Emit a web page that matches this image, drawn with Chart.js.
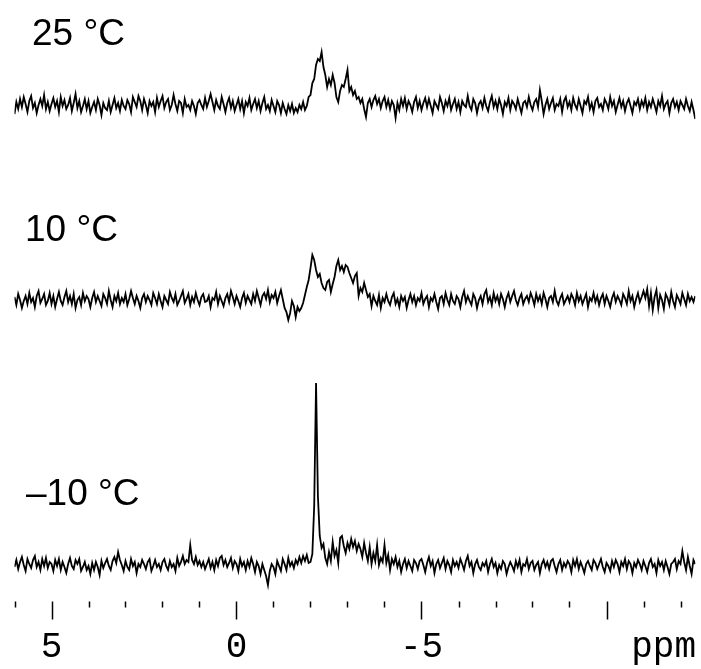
<!DOCTYPE html>
<html>
<head>
<meta charset="utf-8">
<script src="https://cdn.jsdelivr.net/npm/chart.js@4/dist/chart.umd.min.js"></script>
<style>
  html, body { margin: 0; padding: 0; background: #fff; }
  #wrap { width: 701px; height: 669px; }
</style>
</head>
<body>
<div id="wrap"><canvas id="nmr" width="701" height="669"></canvas></div>
<script>
// chemical shift axis (ppm), spectra sampled every 0.05 ppm from 6.0 downwards
const ppmStart = 6.0;
const ppmStep = 0.05;
const ppmMin = -12.4;
const ppmMax = 6.0;

const temps = ['25 °C', '10 °C', '–10 °C'];
const tickValues = [6, 5, 4, 3, 2, 1, 0, -1, -2, -3, -4, -5, -6, -7, -8, -9, -10, -11, -12];
const tickLabels = { '5': '5', '0': '0', '-5': '-5' };
const unitLabel = 'ppm';

// intensities (arbitrary units)
const spec25 = [
  -9, 3, -4, 6, -2, 8, 1, -7, 4, 9, -3, 2, -8, 0, 6, -1, 10, -4, 3, -6,
  1, 7, -2, 4, -7, 8, -1, 5, -4, 0, 7, -6, 2, 11, -3, 4, -7, -1, 6, -4,
  4, -8, -2, 3, -5, 6, 0, -10, 2, -3, -5, 4, -7, 0, 7, -3, 2, -6, 5, -1,
  -4, 5, 1, -7, 8, 3, -2, 9, 4, -5, 6, 0, -8, 4, -1, 3, -7, 7, -2, 4,
  9, -3, 3, 6, -5, 0, 10, 1, -6, 4, 2, -8, 6, -2, 0, -5, 4, -1, -9, 2,
  5, 0, -4, 7, -2, 4, 11, 3, -5, 5, -1, -4, 8, 1, -7, 2, 7, -3, 4, -6,
  0, 6, -4, 4, -8, 3, -1, 7, -5, 1, 6, -3, 4, -6, 2, 8, -4, 0, -6, 5,
  -1, -7, 4, 0, -8, 2, -4, -9, 0, -6, 1, -8, -3, -7, 0, -4, 3, -5, -1, 8,
  10, 22, 26, 40, 46, 44, 53, 38, 30, 18, 26, 20, 30, 22, 8, 3, 14, 20, 18, 26,
  35, 14, 18, 10, 14, 6, 8, 2, 6, -4, -12, 2, 6, -2, 5, 9, 1, 6, -3, 4,
  8, -2, 5, -4, 4, 0, -13, 2, -5, 6, -1, 7, -4, 4, 0, -7, 3, 8, -3, 4,
  -5, 2, 7, -2, 6, -1, -8, 4, 0, -4, 8, 2, -6, 4, -1, 7, -5, 1, 6, -4,
  3, -7, 4, 0, -2, 9, -1, -5, 6, 2, -8, 1, 4, -3, 7, -1, -6, 3, 9, -2,
  4, -4, 6, 0, -9, 3, -1, 7, -5, 4, 1, -4, 6, -1, -8, 2, 4, -2, 8, 0,
  -5, 3, 6, -2, 15, 4, -9, 0, 6, -4, 2, 7, -5, 1, -1, 6, -7, 4, 8, -2,
  3, -5, 7, 0, -4, 6, -1, -8, 4, 1, 8, -4, 2, -7, 4, 7, -2, 1, -5, 6,
  2, -4, 8, -1, 4, -7, 0, 7, -2, 4, -6, 2, 6, -1, -8, 3, 0, 6, -4, 4,
  -1, 7, -5, 3, -2, 6, 0, -7, 4, -1, 9, -4, 1, 4, -8, 2, 6, -2, 3, -5,
  4, 0, -4, 6, -1, -6, 3, -5, -14
];

const spec10 = [
  3, -5, 6, 0, -8, -1, 4, -4, 7, -2, 2, -7, 4, 9, -3, 1, 6, -5, -1, 7,
  -4, 4, -7, 1, 8, -1, -5, 3, 9, -2, 4, -4, 6, -8, 0, 3, -5, 7, -1, 4,
  1, -7, 2, 8, -2, 4, -1, -6, 6, 2, -4, 9, 0, -7, 4, -1, 7, -4, 2, -2,
  6, -5, 1, 9, 2, -4, 4, -1, -8, 2, 6, -2, 4, 0, -5, 7, 2, -4, 6, -1,
  -7, 4, 0, -4, 8, 2, -2, 6, -5, -1, 4, 9, -3, 1, 6, -5, 3, -2, 7, 0,
  -5, 3, 6, -2, -1, 4, -7, 2, 0, 8, -4, 4, -1, -6, 2, 6, -2, 9, 3, -4,
  4, -1, -7, 2, 7, -3, 4, 0, -4, 6, -1, 9, 2, -5, 4, 7, 1, 10, -2, 5,
  2, 8, -3, 4, 10, 1, -8, -12, -20, -13, -1, -6, -17, -7, -11, -8, -3, 5, 13, 20,
  32, 45, 40, 30, 23, 26, 17, 12, 10, 18, 20, 8, 16, 23, 34, 40, 30, 34, 28, 35,
  33, 27, 22, 17, 24, 27, 4, 12, 8, 17, 10, 3, 6, -6, 4, -1, -5, 5, -8, 2,
  -2, 6, -1, -5, 3, 7, -4, 1, -7, 4, -1, 3, -8, 0, 6, -2, 4, -5, 2, -1,
  7, -4, 1, 4, -7, 2, -1, 6, -2, -9, 2, 4, -4, 7, 0, -5, 6, -1, -4, 4,
  1, -7, 3, 9, -2, 4, -1, -5, 6, 2, -8, 0, 4, -4, 6, 10, -2, 3, -5, 7,
  -1, 4, -4, 6, 1, -7, 2, 7, -2, 4, 9, 0, -5, 2, 6, -4, 1, 4, -2, 7,
  2, -5, 6, -1, 4, -4, 7, 1, -7, 2, 4, -2, 9, -1, -5, 2, 6, -4, 0, 4,
  -2, 6, 2, -5, 7, -1, 4, -4, 1, 6, -7, 2, -1, 7, -2, 4, -5, 2, 6, -4,
  4, -1, -7, 2, 7, -2, 4, 0, -5, 6, 2, -4, 9, -1, 4, -7, 1, 7, -2, 3,
  9, 2, 11, -6, 7, -10, 3, 10, -8, 5, 0, -9, 6, 2, -5, 8, -1, -7, 5, 1,
  -4, 7, 1, -5, 6, -1, 3, -2, 4
];

const specMinus10 = [
  -1, 6, -3, 4, 9, 1, -5, 7, 2, -2, 6, 10, -1, 4, -4, 7, 0, 8, -2, 4,
  2, -5, 6, 0, 7, -4, 4, -1, -7, 2, 8, 0, -3, 6, 2, 7, -5, -1, 4, -4,
  0, -8, 3, -4, 4, -1, -9, 5, -2, 3, 7, 0, -4, 5, 9, 3, 14, 6, 1, -5,
  5, -1, -4, 7, 0, 4, -7, 2, -1, 6, 2, -3, 4, 7, -5, 0, 6, -1, 2, -4,
  4, 7, 0, -4, 5, -1, 2, -5, 8, 0, 4, 10, 2, 6, 4, 21, 6, 2, 9, 1,
  5, -1, 4, -3, 2, 7, -2, 4, -4, 6, 0, 8, 10, 1, 6, -1, 3, 8, -2, 5,
  2, -5, 7, 0, 4, -4, 5, -1, 8, 2, -6, 4, 0, -8, 2, -4, -10, -19, -5, 2,
  -1, -8, 5, 0, -5, 7, 2, -4, 8, 0, 4, -2, 6, 2, 9, 3, 10, 5, 11, 3,
  4, 12, 60, 183, 70, 30, 18, 22, 8, 2, 14, 5, 24, 10, 16, 3, 28, 30, 20, 13,
  23, 17, 27, 19, 25, 15, 22, 17, 9, 23, 13, 5, 19, 2, 13, 5, 21, 1, 8, 4,
  21, 3, 11, -4, 7, 2, 9, -1, 5, -6, 2, 7, -2, 5, 0, -5, 6, 3, -3, 5,
  7, 1, -6, 3, 9, 0, 5, -7, 2, 6, -2, 3, 8, -3, 5, 1, -6, 6, 0, 4,
  -2, 7, 2, -4, 5, 10, 0, 4, -7, 2, 6, -1, -4, 3, 0, 5, -6, 2, 7, -1,
  3, -7, 1, -3, 5, 2, -8, -1, 4, 0, -5, 5, -1, 6, -6, 2, 0, 7, -3, 3,
  5, -4, 1, 4, -7, 2, 6, -1, 4, -3, 5, 7, 0, -6, 2, 6, -4, 3, -1, 5,
  2, -6, 6, 0, 7, -3, 4, -1, -7, 2, 5, 0, -4, 6, 3, -3, 2, 7, -1, -6,
  3, 0, -5, 5, -1, 6, 2, -6, 4, 0, 7, -3, 5, 2, -7, 3, -1, 6, 2, -4,
  5, 0, -6, 3, 7, -1, 2, -7, 6, 0, 4, -4, 5, -1, -8, 2, 4, 7, -3, 5,
  2, 15, 4, -4, 9, 0, -8, 6, 2
];

// vertical stacking of the three traces (y-scale units) and label placement (px)
const baselines = [495, 300, 34];
const labelPos = [[32, 45], [25, 241], [26, 505]];

const allSpectra = [spec25, spec10, specMinus10];

function toPoints(values, base) {
  return values.map((v, i) => ({ x: +(ppmStart - i * ppmStep).toFixed(2), y: v + base }));
}

const axisPlugin = {
  id: 'ppmAxis',
  afterDraw(chart) {
    const ctx = chart.ctx;
    const xs = chart.scales.x;
    const top = chart.chartArea.bottom + 1.5;
    ctx.save();
    ctx.strokeStyle = '#000';
    ctx.lineWidth = 1.5;
    tickValues.forEach(v => {
      const px = Math.round(xs.getPixelForValue(v)) + 0.5;
      const len = v % 5 === 0 ? 18 : 6;
      ctx.beginPath();
      ctx.moveTo(px, top);
      ctx.lineTo(px, top + len);
      ctx.stroke();
    });
    ctx.fillStyle = '#000';
    ctx.font = '36px "Courier New", "Liberation Mono", monospace';
    ctx.textBaseline = 'alphabetic';
    ctx.textAlign = 'center';
    Object.keys(tickLabels).forEach(k => {
      ctx.fillText(tickLabels[k], xs.getPixelForValue(Number(k)), 657);
    });
    ctx.textAlign = 'right';
    ctx.fillText(unitLabel, 696, 657);

    ctx.textAlign = 'left';
    ctx.font = '37px "Liberation Sans", Arial, Helvetica, sans-serif';
    temps.forEach((t, i) => {
      ctx.fillText(t, labelPos[i][0], labelPos[i][1]);
    });
    ctx.restore();
  }
};

new Chart(document.getElementById('nmr'), {
  type: 'line',
  data: {
    datasets: allSpectra.map((s, i) => ({
      label: temps[i],
      data: toPoints(s, baselines[i]),
      borderColor: '#000',
      borderWidth: 1.8,
      pointRadius: 0,
      tension: 0,
      fill: false
    }))
  },
  options: {
    responsive: false,
    animation: false,
    layout: { padding: { left: 14.5, right: 5.7, top: 0, bottom: 69 } },
    plugins: { legend: { display: false }, tooltip: { enabled: false } },
    scales: {
      x: { type: 'linear', reverse: true, min: ppmMin, max: ppmMax, display: false },
      y: { type: 'linear', min: 0, max: 600, display: false }
    }
  },
  plugins: [axisPlugin]
});
</script>
</body>
</html>
